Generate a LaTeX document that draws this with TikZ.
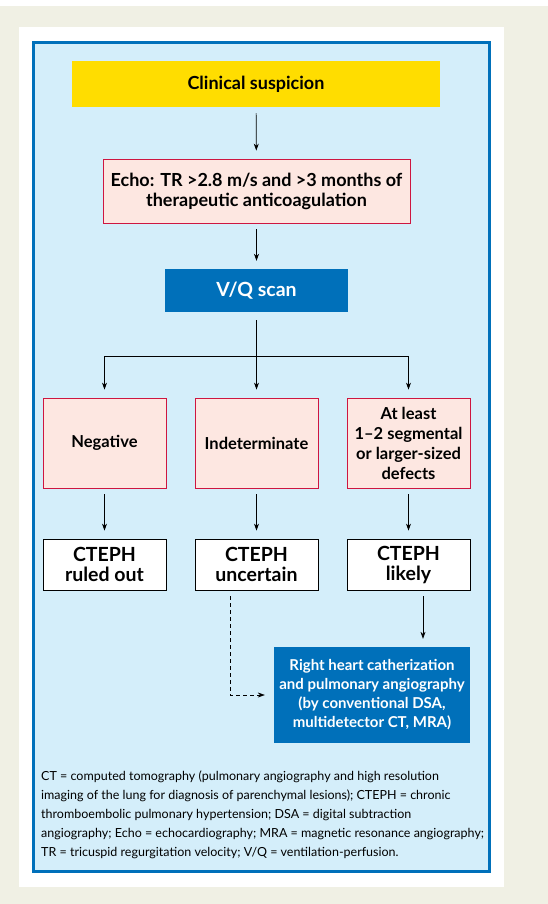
\documentclass[tikz,border=0pt]{standalone}
\usepackage{fontspec}
\setmainfont{Lato}
\usetikzlibrary{arrows.meta,calc}

\definecolor{pagebg}{RGB}{240,240,228}
\definecolor{panelblue}{RGB}{212,238,250}
\definecolor{deepblue}{RGB}{0,112,186}
\definecolor{sunyellow}{RGB}{255,221,0}
\definecolor{pinkfill}{RGB}{253,231,225}
\definecolor{pinkline}{RGB}{206,22,64}

\begin{document}
\begin{tikzpicture}[x=1pt,y=-1pt,>={Stealth[length=7pt,width=5pt]},
  box/.style={draw=pinkline,fill=pinkfill,line width=0.8pt,align=center,
    inner sep=2pt,font=\bfseries\fontsize{16.5}{20}\selectfont},
  bluebox/.style={fill=deepblue,text=white,align=center,inner sep=2pt},
  outbox/.style={draw=black,fill=white,line width=0.8pt,align=center,
    inner sep=2pt,minimum width=123pt,minimum height=51pt,
    font=\bfseries\fontsize{19.5}{20}\selectfont},
  link/.style={->,line width=0.7pt,shorten <=6pt,shorten >=8pt}]
\useasboundingbox (0,0) rectangle (548,904);

% Background and frame
\fill[pagebg] (0,6) rectangle (548,904);
\fill[white] (19,27) rectangle (504,887);
\draw[deepblue,fill=panelblue,line width=3pt] (33.5,42.5) rectangle (489.5,871.5);

% Top of the chart
\node[fill=sunyellow,minimum width=368pt,minimum height=46pt,
  font=\bfseries\fontsize{18}{20}\selectfont] (clin) at (256,84) {Clinical suspicion};
\node[box,minimum width=307pt,minimum height=64pt,font=\bfseries\fontsize{18}{20}\selectfont]
  (echo) at (256.5,191) {Echo: TR >2.8 m/s and >3 months of\\therapeutic anticoagulation};
\node[bluebox,minimum width=183pt,minimum height=43pt,
  font=\bfseries\fontsize{19.5}{20}\selectfont] (vq) at (256.5,290.5) {V/Q scan};

\draw[link] (clin) -- (echo);
\draw[link] (echo) -- (vq);

% Scan results
\node[box,minimum width=123pt,minimum height=90pt] (neg) at (104.5,443) {Negative};
\node[box,minimum width=123pt,minimum height=90pt] (ind) at (256.5,443) {Indeterminate};
\node[box,minimum width=123pt,minimum height=90pt] (dfc) at (408.5,443)
  {At least\\1--2 segmental\\or larger-sized\\defects};

% Outcomes
\node[outbox] (rul) at (104.5,564.5) {CTEPH\\ruled out};
\node[outbox] (unc) at (256.5,564.5) {CTEPH\\uncertain};
\node[outbox] (lik) at (408.5,564.5) {CTEPH\\likely};

% Branches
\coordinate (split) at (256.5,356);
\draw[line width=0.7pt,shorten <=8pt] (vq) -- (split);
\draw[line width=0.7pt] (split -| neg) -- (split -| dfc);
\foreach \b in {neg,ind,dfc} {
  \draw[link,shorten <=0pt] (split -| \b) -- (\b);
}
\draw[link] (neg) -- (rul);
\draw[link] (ind) -- (unc);
\draw[link] (dfc) -- (lik);

% Final step
\node[bluebox,minimum width=196pt,minimum height=96pt,
  font=\bfseries\fontsize{15}{19}\selectfont] (rhc) at (372,695)
  {Right heart catherization\\and pulmonary angiography\\(by conventional DSA,\\multidetector CT, MRA)};
\draw[link] ([xshift=14.5pt]lik.south) -- ([xshift=14.5pt]lik.south |- rhc.north);
\draw[link,dash pattern=on 4pt off 3pt,line width=0.6pt,shorten >=9pt]
  ([xshift=-26.5pt]unc.south) |- (rhc.west);

% Abbreviations
\node[anchor=north west,align=left,inner sep=0pt,
  font=\fontsize{12.5}{19}\selectfont] (abbr) at (41,771)
  {CT = computed tomography (pulmonary angiography and high resolution\\
   imaging of the lung for diagnosis of parenchymal lesions); CTEPH = chronic\\
   thromboembolic pulmonary hypertension; DSA = digital subtraction\\
   angiography; Echo = echocardiography; MRA = magnetic resonance angiography;\\
   TR = tricuspid regurgitation velocity; V/Q = ventilation-perfusion.};

\end{tikzpicture}
\end{document}
